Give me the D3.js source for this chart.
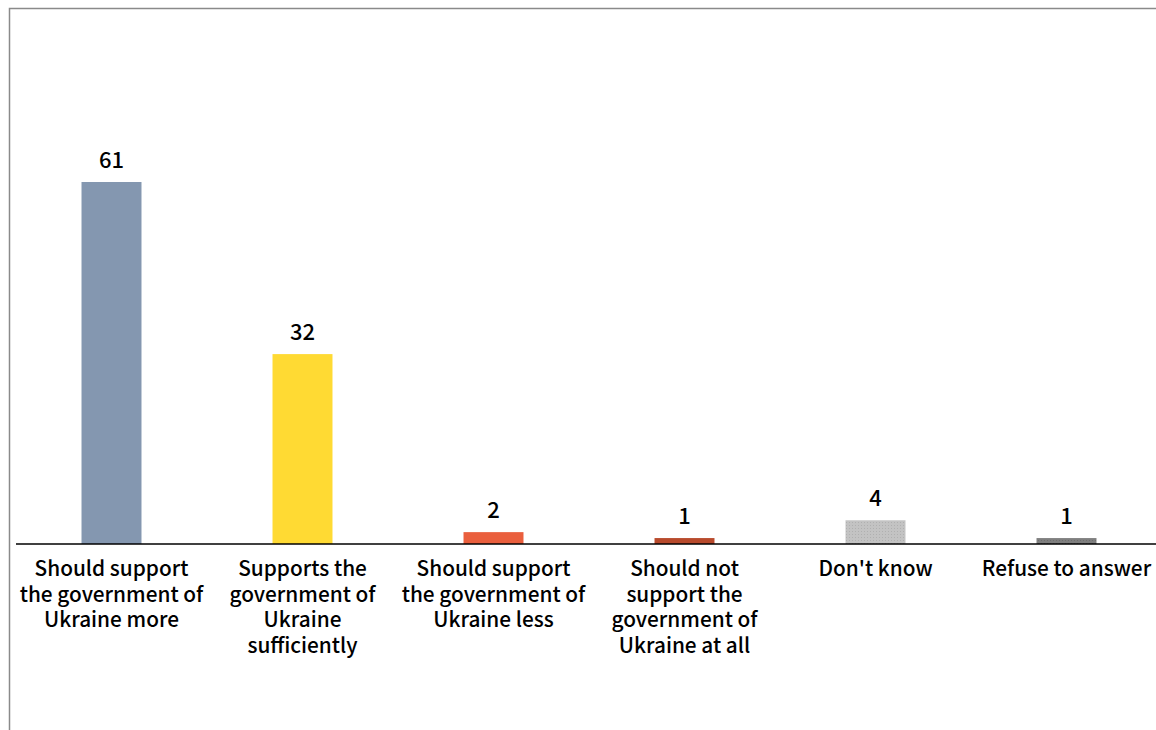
<!DOCTYPE html>
<html><head><meta charset="utf-8">
<script src="https://cdn.jsdelivr.net/npm/d3@7"></script>
<style>
html,body{margin:0;padding:0;background:#fff;}
svg{display:block;}
</style></head>
<body>
<svg id="chart" width="1156" height="730"></svg>
<script>
const categories = [
  "Should support the government of Ukraine more",
  "Supports the government of Ukraine sufficiently",
  "Should support the government of Ukraine less",
  "Should not support the government of Ukraine at all",
  "Don't know",
  "Refuse to answer"
];
const labelLines = [
  ["Should support", "the government of", "Ukraine more"],
  ["Supports the", "government of", "Ukraine", "sufficiently"],
  ["Should support", "the government of", "Ukraine less"],
  ["Should not", "support the", "government of", "Ukraine at all"],
  ["Don't know"],
  ["Refuse to answer"]
];
const values = [61, 32, 2, 1, 4, 1];
const colors = ["#8497B0", "#FFDA33", "#EA5F3D", "#B84A2C", "#C3C3C3", "#7F7F7F"];

const svg = d3.select("#chart");
const font = "'Noto Sans CJK SC','Noto Sans',sans-serif";

// frame
svg.append("path").attr("d","M9.5,730 V8.5 H1156").attr("fill","none").attr("stroke","#8a8a8a").attr("stroke-width",1.5);

const x = d3.scaleBand().domain(categories).range([16, 1162]).paddingInner(0.686).paddingOuter(0.343);
const y = d3.scaleLinear().domain([0, 61]).range([544, 182]);

// patterns for gray bars
const defs = svg.append("defs");
[["p4", "#C3C3C3", "#B0B0B0"], ["p5", "#7F7F7F", "#6E6E6E"]].forEach(([id, c1, c2]) => {
  const p = defs.append("pattern").attr("id", id).attr("width", 3).attr("height", 3).attr("patternUnits", "userSpaceOnUse");
  p.append("rect").attr("width", 3).attr("height", 3).attr("fill", c1);
  p.append("rect").attr("width", 1).attr("height", 1).attr("fill", c2);
});
const fills = colors.map((c, i) => i === 4 ? "url(#p4)" : i === 5 ? "url(#p5)" : c);

svg.append("g").selectAll("rect").data(values).join("rect")
  .attr("x", (d, i) => x(categories[i]))
  .attr("y", d => y(d))
  .attr("width", x.bandwidth())
  .attr("height", d => y(0) - y(d))
  .attr("fill", (d, i) => fills[i]);

// value labels
svg.append("g").selectAll("text").data(values).join("text")
  .attr("x", (d, i) => x(categories[i]) + x.bandwidth() / 2)
  .attr("y", d => y(d) - 14)
  .attr("text-anchor", "middle")
  .attr("font-family", font).attr("font-weight", 500).attr("font-size", 22)
  .attr("fill", "#000")
  .text(d => d);

// axis
const axis = d3.axisBottom(x).tickSize(0).tickSizeOuter(0).tickPadding(0).tickFormat(() => "");
const gAxis = svg.append("g").attr("transform", `translate(0,${y(0)})`).call(axis);
gAxis.select(".domain").attr("d", "M16,0 H1156").attr("stroke", "#000").attr("stroke-width", 1.6);

gAxis.selectAll(".tick").each(function(d, i) {
  const t = d3.select(this).append("text")
    .attr("text-anchor", "middle")
    .attr("font-family", font).attr("font-weight", 500).attr("font-size", 20.8)
    .attr("fill", "#000");
  labelLines[i].forEach((ln, j) => {
    t.append("tspan").attr("x", 0).attr("y", 32 + j * 25.6).text(ln);
  });
});
</script>
</body></html>
